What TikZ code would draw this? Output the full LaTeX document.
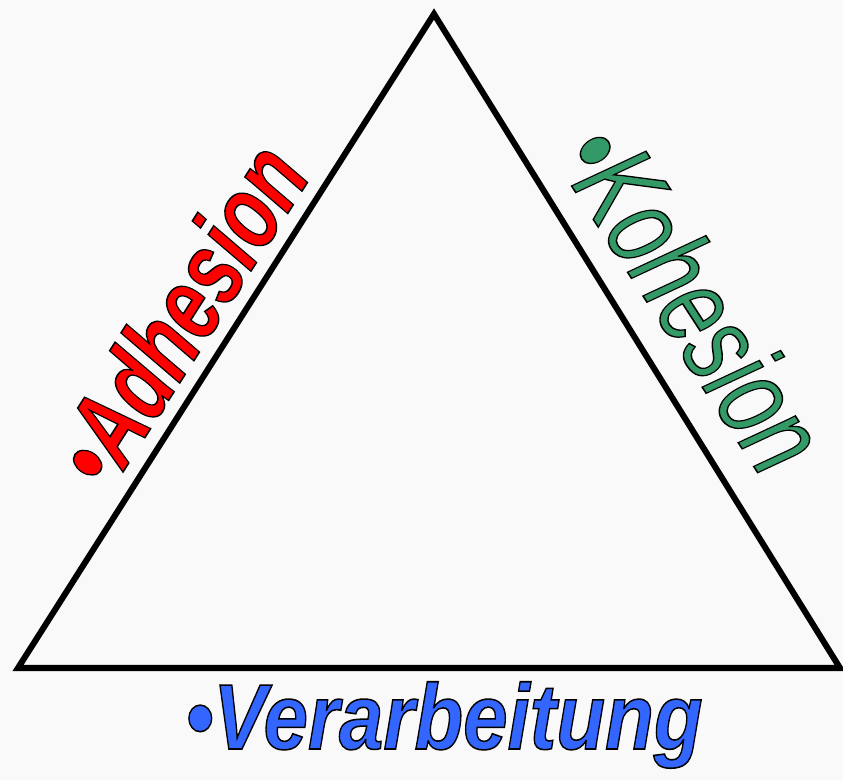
\documentclass[tikz,border=0pt]{standalone}
\usepackage{fontspec}
\setmainfont{Liberation Sans}
\usepackage{xcolor}
\definecolor{Canvas}{HTML}{F9F9F9}
\definecolor{AdhRed}{HTML}{FF0000}
\definecolor{KohGreen}{HTML}{339966}
\definecolor{VerBlue}{HTML}{3366FF}
\newcommand{\outlined}[1]{\special{pdf:literal direct 2 Tr 0 G 1.1 w}#1\special{pdf:literal direct 0 Tr}}

\begin{document}
\begin{tikzpicture}[x=0.025cm,y=-0.025cm,italiclabel/.style={inner sep=0pt,font=\fontsize{#1}{#1}\selectfont\itshape},bolditalic/.style={inner sep=0pt,font=\fontsize{#1}{#1}\selectfont\bfseries\itshape}]
\fill[Canvas] (0,0) rectangle (843,780);
\coordinate (apex) at (434,14);
\coordinate (left) at (18,668);
\coordinate (right) at (840,668);
\draw[line width=4.3pt,line join=miter] (apex) -- (right) -- (left) -- cycle;
\node[bolditalic=75,text=AdhRed,rotate=57.5,xscale=0.73] (adhesion) at (179,314) {\outlined{•Adhesion}};
\node[italiclabel=84,text=KohGreen,rotate=-57,xscale=0.72] (kohesion) at (694,297) {\outlined{•Kohesion}};
\node[bolditalic=66,text=VerBlue,anchor=base,xscale=0.86] (verarbeitung) at (444,749) {\outlined{•Verarbeitung}};
\end{tikzpicture}
\end{document}
